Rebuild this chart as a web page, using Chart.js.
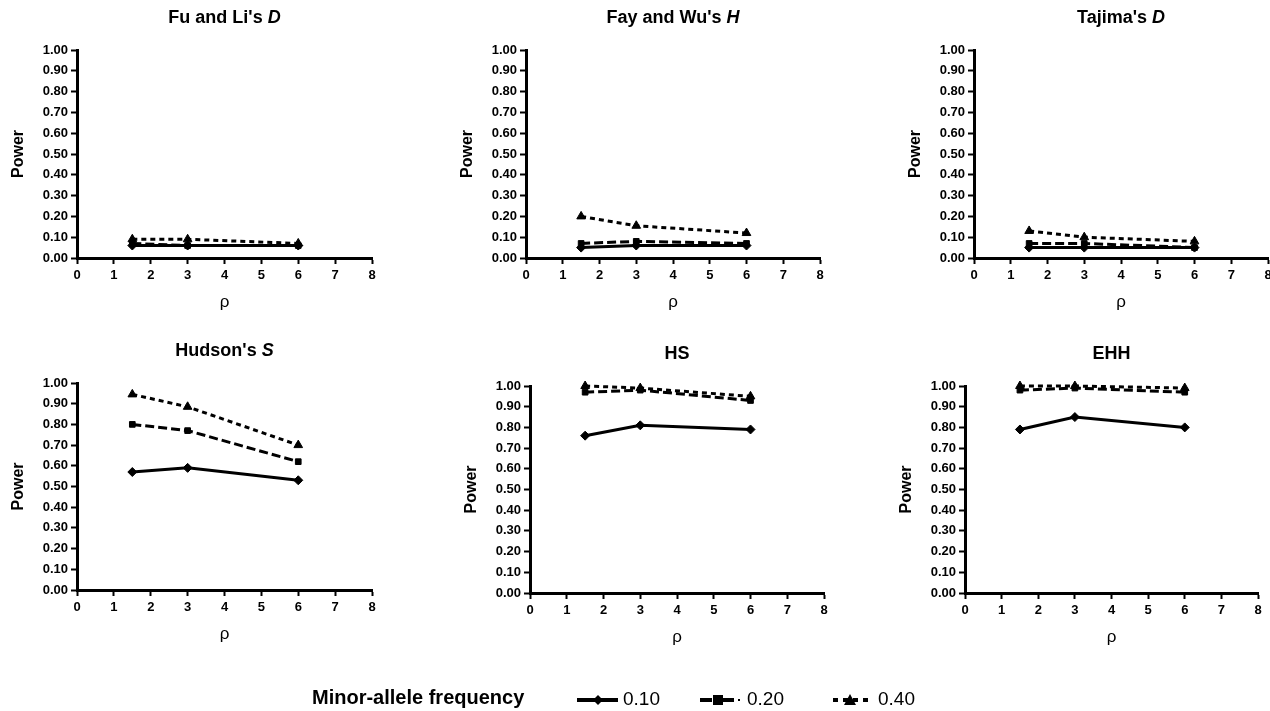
<!DOCTYPE html>
<html>
<head>
<meta charset="utf-8">
<script src="https://cdn.jsdelivr.net/npm/chart.js@4/dist/chart.umd.min.js"></script>
<style>
  html, body { margin: 0; padding: 0; background: #fff; overflow: hidden; }
  body { width: 1270px; height: 711px; position: relative; font-family: "Liberation Sans", Arial, sans-serif; }
  canvas.panel { position: absolute; }
  #legend { position: absolute; left: 0; top: 0; width: 1270px; height: 711px; pointer-events: none; }
  .lg { position: absolute; color: #000; white-space: nowrap; line-height: 1; }
</style>
</head>
<body>

<div id="legend">
  <div class="lg" style="left:312px; top:687px; font-size:20px; font-weight:bold;">Minor-allele frequency</div>
  <svg class="lg" style="left:574px; top:690px;" width="48" height="20">
    <line x1="3" y1="10" x2="44" y2="10" stroke="#000" stroke-width="4"/>
    <polygon points="24,5 29,10 24,15 19,10" fill="#000"/>
  </svg>
  <div class="lg" style="left:623px; top:689px; font-size:19px;">0.10</div>
  <svg class="lg" style="left:698px; top:690px;" width="48" height="20">
    <line x1="2" y1="10" x2="14" y2="10" stroke="#000" stroke-width="4"/>
    <line x1="24" y1="10" x2="36" y2="10" stroke="#000" stroke-width="4"/>
    <rect x="15" y="5" width="10" height="10" fill="#000"/>
    <line x1="40" y1="10" x2="42" y2="10" stroke="#000" stroke-width="2"/>
  </svg>
  <div class="lg" style="left:747px; top:689px; font-size:19px;">0.20</div>
  <svg class="lg" style="left:831px; top:690px;" width="48" height="20">
    <line x1="2" y1="10" x2="42" y2="10" stroke="#000" stroke-width="4" stroke-dasharray="5,5"/>
    <polygon points="19,4 25,15 13,15" fill="#000"/>
  </svg>
  <div class="lg" style="left:878px; top:689px; font-size:19px;">0.40</div>
</div>

<script>
/* =========================================================
    DATOS
========================================================= */

const rho = [1.5, 3, 6];
const mafLabels = ["0.10", "0.20", "0.40"];

const xTicks = [0, 1, 2, 3, 4, 5, 6, 7, 8];
const yTicks = [0, 0.1, 0.2, 0.3, 0.4, 0.5, 0.6, 0.7, 0.8, 0.9, 1.0];

// series: [0.10, 0.20, 0.40]
const fuLiD     = [[0.06, 0.06, 0.06], [0.07, 0.06, 0.06], [0.09, 0.09, 0.07]];
const fayWuH    = [[0.05, 0.06, 0.06], [0.07, 0.08, 0.07], [0.20, 0.155, 0.12]];
const tajimaD   = [[0.05, 0.05, 0.05], [0.07, 0.07, 0.05], [0.13, 0.10, 0.08]];
const hudsonS   = [[0.57, 0.59, 0.53], [0.80, 0.77, 0.62], [0.945, 0.885, 0.70]];
const hsPower   = [[0.76, 0.81, 0.79], [0.97, 0.98, 0.93], [1.00, 0.99, 0.95]];
const ehhPower  = [[0.79, 0.85, 0.80], [0.98, 0.99, 0.97], [1.00, 1.00, 0.99]];

const titleMain   = ["Fu and Li's ", "Fay and Wu's ", "Tajima's ", "Hudson's ", "HS", "EHH"];
const titleItalic = ["D", "H", "D", "S", "", ""];
const panelData   = [fuLiD, fayWuH, tajimaD, hudsonS, hsPower, ehhPower];

/* =========================================================
    ESTILO
========================================================= */

const FONT = '"Liberation Sans", Arial, sans-serif';

// area del grafico (absoluta) de cada panel: L, R, T, B
const areas = [
    [77, 372, 50, 258],
    [526, 820, 50, 258],
    [974, 1268, 50, 258],
    [77, 372, 383, 590],
    [530, 824, 386, 593],
    [965, 1258, 386, 593]
];

const seriesStyle = [
    { dash: [], point: "rectRot", radius: 4.5 },
    { dash: [9, 4], point: "rect", radius: 4 },
    { dash: [5, 4], point: "triangle", radius: 5 }
];

// Titulo del panel, con parte en cursiva
const panelTitle = {
    id: "panelTitle",
    afterDraw(chart, args, opts) {
        const { ctx, chartArea } = chart;
        const plain = "bold 18px " + FONT;
        const ital = "italic bold 18px " + FONT;
        ctx.save();
        ctx.fillStyle = "#000";
        ctx.textBaseline = "middle";
        ctx.font = plain;
        const w1 = ctx.measureText(opts.main).width;
        ctx.font = ital;
        const w2 = ctx.measureText(opts.italic).width;
        let x = (chartArea.left + chartArea.right) / 2 - (w1 + w2) / 2;
        const y = chartArea.top - 32;
        ctx.font = plain;
        ctx.fillText(opts.main, x, y);
        ctx.font = ital;
        ctx.fillText(opts.italic, x + w1, y);
        ctx.restore();
    }
};

/* =========================================================
    PANELES
========================================================= */

panelData.forEach((series, i) => {
    const [L, R, T, B] = areas[i];
    const cv = document.createElement("canvas");
    cv.className = "panel";
    const w = R - L + 125;
    const h = B - T + 112;
    cv.width = w;
    cv.height = h;
    cv.style.left = (L - 77) + "px";
    cv.style.top = (T - 50) + "px";
    cv.style.width = w + "px";
    cv.style.height = h + "px";
    document.body.insertBefore(cv, document.getElementById("legend"));

    new Chart(cv, {
        type: "line",
        data: {
            datasets: series.map((vals, k) => ({
                label: mafLabels[k],
                data: vals.map((v, j) => ({ x: rho[j], y: v })),
                borderColor: "#000",
                backgroundColor: "#000",
                borderWidth: 3,
                borderDash: seriesStyle[k].dash,
                pointStyle: seriesStyle[k].point,
                pointRadius: seriesStyle[k].radius,
                pointBorderWidth: 1,
                tension: 0,
                clip: false,
                order: 2 - k
            }))
        },
        options: {
            responsive: false,
            animation: false,
            devicePixelRatio: 1,
            layout: { padding: { top: 50, right: 48, left: 0, bottom: 0 } },
            plugins: {
                legend: { display: false },
                tooltip: { enabled: false },
                panelTitle: { main: titleMain[i], italic: titleItalic[i] }
            },
            scales: {
                x: {
                    type: "linear",
                    min: xTicks[0],
                    max: xTicks[xTicks.length - 1],
                    afterBuildTicks: s => { s.ticks = xTicks.map(v => ({ value: v })); },
                    afterFit: s => { s.height = 62; },
                    ticks: {
                        color: "#000",
                        font: { family: FONT, size: 13, weight: "bold" },
                        padding: 4,
                        maxRotation: 0
                    },
                    grid: {
                        drawOnChartArea: false,
                        drawTicks: true,
                        tickLength: 6,
                        tickWidth: 2,
                        tickColor: "#000"
                    },
                    border: { display: true, color: "#000", width: 3 },
                    title: {
                        display: true,
                        text: "ρ",
                        color: "#000",
                        font: { family: FONT, size: 17 },
                        padding: { top: 0, bottom: 7 }
                    }
                },
                y: {
                    min: 0,
                    max: 1,
                    afterBuildTicks: s => { s.ticks = yTicks.map(v => ({ value: v })); },
                    afterFit: s => { s.width = 77; },
                    ticks: {
                        color: "#000",
                        font: { family: FONT, size: 13, weight: "bold" },
                        padding: 3,
                        callback: v => v.toFixed(2)
                    },
                    grid: {
                        drawOnChartArea: false,
                        drawTicks: true,
                        tickLength: 6,
                        tickWidth: 2,
                        tickColor: "#000"
                    },
                    border: { display: true, color: "#000", width: 3 },
                    title: {
                        display: true,
                        text: "Power",
                        color: "#000",
                        font: { family: FONT, size: 16, weight: "bold" },
                        padding: { top: 9, bottom: 0 }
                    }
                }
            }
        },
        plugins: [panelTitle]
    });
});
</script>
</body>
</html>
